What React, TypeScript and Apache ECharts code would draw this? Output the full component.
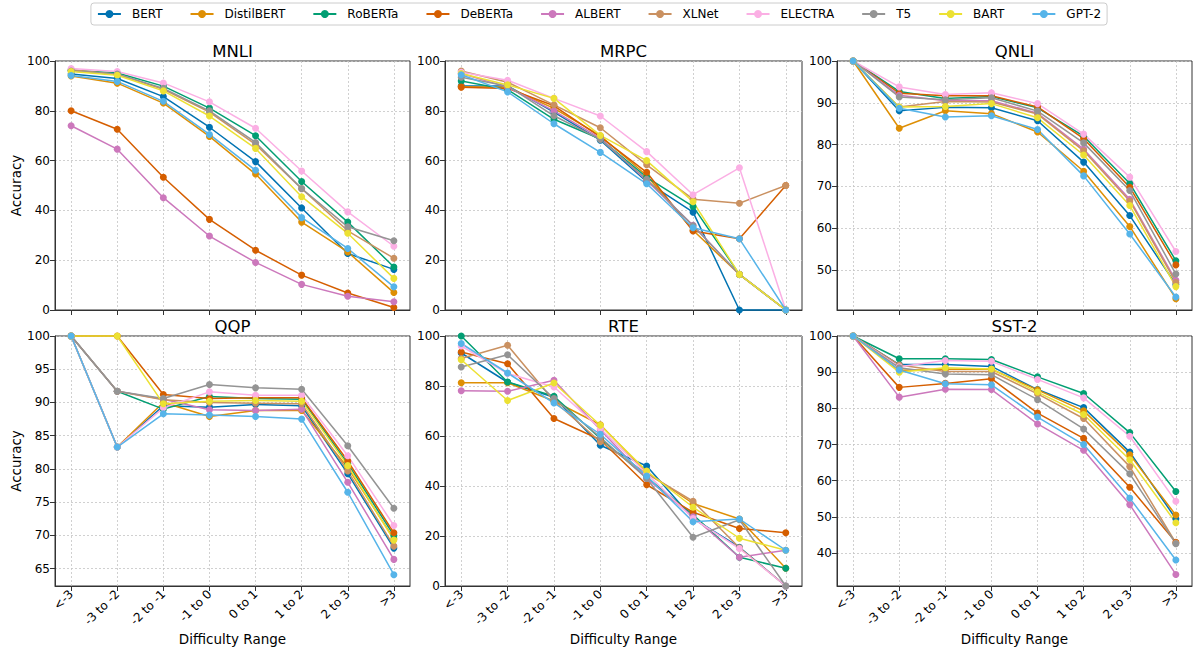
import { useEffect, useRef } from 'react';
import * as echarts from 'echarts';

const categories = ['<-3', '-3 to -2', '-2 to -1', '-1 to 0', '0 to 1', '1 to 2', '2 to 3', '>3'];
const models = ['BERT', 'DistilBERT', 'RoBERTa', 'DeBERTa', 'ALBERT', 'XLNet', 'ELECTRA', 'T5', 'BART', 'GPT-2'];
const colors = ['#0173b2', '#de8f05', '#029e73', '#d55e00', '#cc78bc', '#ca9161', '#fbafe4', '#949494', '#ece133', '#56b4e9'];

// rows follow the order of `models`
const mnli = [
  [94.8, 93.0, 85.7, 73.4, 59.6, 41.0, 22.7, 16.3],
  [94.0, 91.1, 83.1, 69.7, 54.6, 35.3, 23.3, 7.0],
  [96.3, 95.2, 89.9, 81.1, 70.0, 51.6, 35.3, 17.3],
  [80.0, 72.6, 53.3, 36.4, 24.0, 14.0, 6.8, 1.0],
  [74.0, 64.6, 45.1, 29.7, 19.1, 10.3, 5.5, 3.3],
  [96.5, 94.7, 88.6, 79.5, 66.5, 48.7, 31.8, 20.8],
  [97.0, 95.8, 91.2, 83.6, 73.0, 55.8, 39.4, 25.6],
  [96.0, 94.8, 89.0, 80.0, 67.3, 48.8, 33.4, 27.8],
  [95.8, 94.3, 88.0, 77.9, 64.9, 45.5, 30.8, 12.7],
  [94.2, 91.8, 83.8, 70.5, 56.1, 37.1, 24.7, 9.3],
];
const mrpc = [
  [90.0, 90.0, 79.5, 68.2, 51.5, 39.3, 0, 0],
  [89.7, 89.5, 81.0, 70.0, 54.0, 32.0, 14.3, 0],
  [92.0, 88.5, 76.6, 68.7, 53.3, 41.6, 14.3, 0],
  [89.5, 89.0, 82.0, 69.5, 55.3, 31.7, 28.6, 50],
  [95.0, 89.5, 80.0, 69.0, 52.0, 34.0, 14.3, 0],
  [96.0, 91.5, 82.4, 73.2, 58.3, 44.5, 42.9, 50],
  [95.5, 92.3, 85.0, 77.9, 63.6, 46.3, 57.1, 0],
  [93.5, 90.0, 78.0, 68.5, 52.5, 33.8, 14.3, 0],
  [95.0, 90.4, 85.0, 70.1, 60.0, 43.5, 14.3, 0],
  [94.5, 87.6, 74.8, 63.3, 50.7, 33.0, 28.6, 0],
];
const qnli = [
  [100, 88.1, 88.9, 88.8, 85.7, 75.8, 63.0, 46.5],
  [100, 83.9, 88.1, 87.4, 83.0, 73.6, 60.4, 43.1],
  [100, 92.7, 91.0, 91.5, 88.8, 82.0, 70.7, 52.2],
  [100, 92.3, 91.7, 91.7, 89.0, 81.4, 69.8, 51.2],
  [100, 91.8, 90.5, 90.5, 87.5, 78.9, 66.9, 47.5],
  [100, 89.0, 90.3, 90.2, 87.3, 78.5, 66.5, 47.0],
  [100, 93.8, 92.0, 92.4, 89.8, 82.5, 72.2, 54.4],
  [100, 91.4, 90.7, 91.2, 88.0, 80.4, 69.0, 49.0],
  [100, 89.0, 89.1, 89.8, 86.4, 77.5, 65.4, 46.0],
  [100, 88.7, 86.6, 86.9, 83.6, 72.5, 58.6, 43.5],
];
const qqp = [
  [100, 83.3, 89.5, 89.3, 89.7, 89.5, 79.3, 68.1],
  [100, 83.3, 90.0, 87.9, 88.8, 88.8, 80.2, 69.5],
  [100, 91.7, 89.0, 90.9, 90.6, 90.5, 80.8, 70.0],
  [100, 100, 91.2, 90.6, 90.7, 90.7, 81.2, 70.4],
  [100, 91.7, 90.5, 88.9, 88.8, 89.0, 78.0, 66.4],
  [100, 91.7, 90.4, 90.0, 89.9, 89.8, 79.7, 68.4],
  [100, 83.3, 89.2, 91.6, 91.1, 91.1, 82.0, 71.5],
  [100, 91.7, 90.6, 92.7, 92.2, 92.0, 83.5, 74.1],
  [100, 100, 89.8, 90.2, 90.3, 90.2, 80.5, 69.3],
  [100, 83.3, 88.3, 88.1, 87.9, 87.5, 76.5, 64.1],
];
const rte = [
  [93.2, 81.5, 75.5, 56.3, 48.0, 27.0, 15.5, 0],
  [81.3, 81.3, 74.0, 64.5, 45.5, 33.0, 26.8, 7.1],
  [100, 81.6, 75.9, 59.0, 43.5, 28.5, 11.5, 7.1],
  [93.6, 88.9, 67.0, 58.5, 40.5, 29.5, 23.0, 21.3],
  [78.1, 77.9, 82.3, 62.5, 43.0, 27.7, 11.5, 14.3],
  [91.0, 96.3, 74.0, 57.7, 45.0, 33.9, 15.3, 0],
  [96.0, 85.0, 79.6, 63.0, 45.0, 27.0, 15.0, 0],
  [87.6, 92.5, 75.0, 59.5, 43.0, 19.5, 26.5, 0],
  [90.5, 74.2, 81.2, 64.3, 46.0, 31.5, 19.1, 14.3],
  [97.0, 85.2, 73.2, 60.7, 44.0, 25.7, 26.8, 14.3],
];
const sst2 = [
  [100, 92.1, 92.1, 91.6, 85.2, 80.2, 67.9, 49.5],
  [100, 90.5, 90.8, 90.8, 85.1, 79.3, 67.2, 50.5],
  [100, 93.7, 93.7, 93.5, 88.7, 84.1, 73.3, 57.0],
  [100, 85.8, 86.9, 88.2, 78.7, 71.7, 58.2, 43.0],
  [100, 83.1, 85.3, 85.2, 75.7, 68.4, 53.4, 34.1],
  [100, 92.0, 90.2, 90.2, 84.0, 77.2, 63.9, 42.8],
  [100, 91.5, 93.2, 93.0, 88.0, 82.9, 72.3, 54.3],
  [100, 91.2, 89.5, 89.3, 82.4, 74.3, 61.9, 42.6],
  [100, 90.0, 91.2, 90.9, 84.5, 78.3, 65.8, 48.4],
  [100, 90.6, 86.8, 86.5, 77.6, 70.0, 55.2, 38.1],
];

const panelNames = ['MNLI', 'MRPC', 'QNLI', 'QQP', 'RTE', 'SST-2'];
const panelData = [mnli, mrpc, qnli, qqp, rte, sst2];
const yMins = [0, 0, 40.4, 62.4, 0, 30.9];
const yTicks = [
  [0, 20, 40, 60, 80, 100],
  [0, 20, 40, 60, 80, 100],
  [50, 60, 70, 80, 90, 100],
  [65, 70, 75, 80, 85, 90, 95, 100],
  [0, 20, 40, 60, 80, 100],
  [40, 50, 60, 70, 80, 90, 100],
];

export default function App() {
  const ref = useRef<HTMLDivElement>(null);
  useEffect(() => {
    if (!ref.current) return;
    const chart = echarts.init(ref.current, null, { renderer: 'svg' });
    const lefts = [55, 445, 837];
    const widths = [355, 357, 355];
    const tops = [61, 336];
    const heights = [249, 250];
    const xIdx = categories.map((_, i) => i);
    const axisColor = '#333';
    const gridLine = { show: true, lineStyle: { color: '#c4c4c4', width: 0.8, type: [2, 2] as any } };

    const grids: any[] = [];
    const xAxes: any[] = [];
    const yAxes: any[] = [];
    const series: any[] = [];
    const graphics: any[] = [];

    panelNames.forEach((name, p) => {
      const row = Math.floor(p / 3);
      const col = p % 3;
      grids.push({
        left: lefts[col], top: tops[row], width: widths[col], height: heights[row],
        show: true, borderColor: axisColor, borderWidth: 1, backgroundColor: 'transparent',
        containLabel: false,
      });
      xAxes.push({
        type: 'value', gridIndex: p, min: -0.35, max: 7.35,
        axisLine: { show: true, onZero: false, lineStyle: { color: axisColor, width: 1 } },
        axisTick: { show: true, customValues: xIdx, length: 5, lineStyle: { color: axisColor } },
        axisLabel: {
          show: row === 1, customValues: xIdx, rotate: 45, fontSize: 12, color: '#000', margin: 6,
          formatter: (v: number) => categories[Math.round(v)] ?? '',
        },
        splitLine: gridLine,
        name: row === 1 ? 'Difficulty Range' : '',
        nameLocation: 'middle', nameGap: 46,
        nameTextStyle: { fontSize: 13.5, color: '#000' },
      });
      yAxes.push({
        type: 'value', gridIndex: p, min: yMins[p], max: 100,
        axisLine: { show: true, onZero: false, lineStyle: { color: axisColor, width: 1 } },
        axisTick: { show: true, customValues: yTicks[p], length: 5, lineStyle: { color: axisColor } },
        axisLabel: { show: true, customValues: yTicks[p], fontSize: 12, color: '#000', margin: 5 },
        splitLine: gridLine,
        name: col === 0 ? 'Accuracy' : '',
        nameLocation: 'middle', nameGap: 31,
        nameTextStyle: { fontSize: 13.5, color: '#000' },
      });
      graphics.push({
        type: 'text',
        x: lefts[col] + widths[col] / 2,
        y: row === 0 ? 51 : 326,
        style: {
          text: name, fontSize: 16.5, fontWeight: 'normal', fill: '#000',
          align: 'center', verticalAlign: 'middle', textAlign: 'center', textVerticalAlign: 'middle',
          fontFamily: 'DejaVu Sans',
        },
      });
      panelData[p].forEach((vals, m) => {
        series.push({
          type: 'line', name: models[m], xAxisIndex: p, yAxisIndex: p,
          data: vals.map((v, i) => [i, v]),
          color: colors[m],
          symbol: 'circle', symbolSize: 7, showSymbol: true,
          lineStyle: { width: 1.5, color: colors[m] },
          itemStyle: { color: colors[m] },
          clip: false,
          emphasis: { disabled: true },
        });
      });
    });

    chart.setOption({
      animation: false,
      textStyle: { fontFamily: 'DejaVu Sans' },
      legend: {
        top: 3, left: 'center', data: models,
        itemWidth: 23, itemHeight: 10, itemGap: 27,
        borderColor: '#cccccc', borderWidth: 1, borderRadius: 3, padding: [5, 6],
        textStyle: { fontSize: 12, color: '#000', padding: [0, 0, 0, 6] },
      },
      grid: grids,
      xAxis: xAxes,
      yAxis: yAxes,
      series,
      graphic: graphics,
    });
    return () => chart.dispose();
  }, []);
  return <div ref={ref} style={{ position: 'absolute', left: 0, top: 0, width: 1198, height: 653 }} />;
}
